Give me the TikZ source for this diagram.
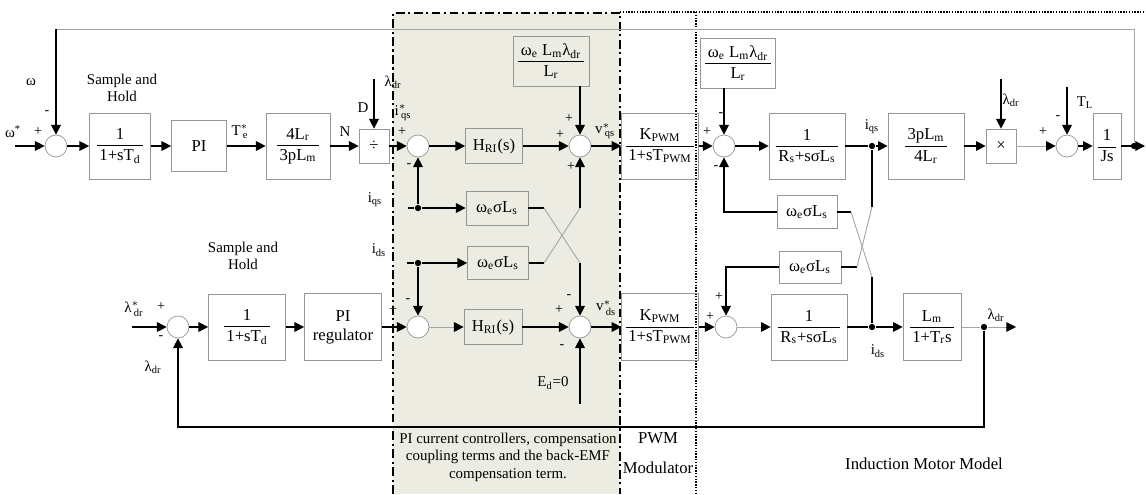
\documentclass[tikz,border=0pt]{standalone}
\usepackage{amsmath}
\usepackage{fontspec}
\setmainfont{Liberation Serif}
\usepackage{tikz}
\usetikzlibrary{arrows.meta}
\definecolor{boxGray}{RGB}{150,150,150}
\definecolor{lineGray}{RGB}{165,165,165}
\definecolor{panelBeige}{RGB}{237,236,226}
\newcommand{\ssub}[1]{\textsubscript{#1}}
\newcommand{\frc}[2]{$\genfrac{}{}{0.6pt}{0}{\text{\,#1\,}}{\text{\,#2\,}}$}
\newcommand{\sx}[2]{$\text{#1}^{*}_{\,\text{#2}}$}

\begin{document}
\begin{tikzpicture}[x=0.02cm, y=-0.02cm, font=\fontsize{8.5}{10}\selectfont,
      blk/.style 2 args={draw=boxGray, minimum width=#1, minimum height=#2,
                  inner sep=1pt, align=center, font=\fontsize{9.5}{11}\selectfont},
      sumc/.style={circle, draw=boxGray, fill=white, minimum size=0.44cm, inner sep=0pt},
      jdot/.style={circle, fill=black, inner sep=0pt, minimum size=3.6pt},
      arrow/.style={-{Triangle[length=5.5pt,width=5.5pt]}, line width=0.7pt},
      litearrow/.style={-{Triangle[length=5.5pt,width=5.5pt,color=black]}, draw=lineGray, line width=0.5pt},
      wire/.style={line width=0.7pt},
      lite/.style={draw=lineGray, line width=0.5pt},
      sign/.style={inner sep=0pt, font=\fontsize{8}{9}\selectfont},
      lbl/.style={inner sep=0pt},
      note/.style={align=center, inner sep=0pt},
      zone/.style={line width=1.1pt, dash pattern=on 5pt off 2pt on 1.2pt off 2pt},
      zoneDot/.style={line width=1.6pt, dash pattern=on 0.8pt off 0.8pt}
    ]
    \useasboundingbox (0,0) rectangle (1146,494);
    \fill[panelBeige] (393,13) rectangle (620,494);
    \draw[zone] (393,494) -- (393,13) -- (620,13) -- (620,494);
    \draw[zoneDot, line width=1.2pt] (620,12) -- (1146,12);
    \draw[zoneDot] (696,12) -- (696,494);

    \node[sumc] (sum1)  at (56,146)   {};
    \node[blk={1.22cm}{1.32cm}] (sh1)  at (120,146) {\frc{1}{1+sT\ssub{d}}};
    \node[blk={1.10cm}{1.02cm}] (pi)   at (199,146) {PI};
    \node[blk={1.28cm}{1.32cm}] (gain) at (298,146) {\frc{4L\ssub{r}}{3pL\ssub{m}}};
    \node[blk={0.60cm}{0.68cm}] (div)  at (374,146) {÷};
    \node[sumc] (sum2)  at (418,146)  {};
    \node[blk={1.14cm}{0.70cm}] (hri1) at (494,146) {H\ssub{RI}(s)};
    \node[blk={1.52cm}{1.00cm}] (emf1) at (551,61)  {\frc{ω\ssub{e} L\ssub{m}λ\ssub{dr}}{L\ssub{r}}};
    \node[sumc] (sum3)  at (580,146)  {};
    \node[blk={1.48cm}{1.32cm}] (pwm1) at (660,146) {\frc{K\ssub{PWM}}{1+sT\ssub{PWM}}};
    \node[blk={1.50cm}{1.00cm}] (emf2) at (738,63)  {\frc{ω\ssub{e} L\ssub{m}λ\ssub{dr}}{L\ssub{r}}};
    \node[sumc] (sumq)  at (724,146)  {};
    \node[blk={1.52cm}{1.32cm}] (rs1)  at (807,146) {\frc{1}{R\ssub{s}+sσL\ssub{s}}};
    \node[jdot] (jiq)   at (872,146)  {};
    \node[blk={1.52cm}{1.32cm}] (torq) at (926,146) {\frc{3pL\ssub{m}}{4L\ssub{r}}};
    \node[blk={0.60cm}{0.68cm}] (mult) at (1001,146) {×};
    \node[sumc] (sumt)  at (1067,146) {};
    \node[blk={0.56cm}{1.32cm}] (js)   at (1107,146) {\frc{1}{Js}};
    \node[jdot] (jw)    at (1134,146) {};

    \node[blk={1.24cm}{0.68cm}] (cpa) at (497,208) {ω\ssub{e}σL\ssub{s}};
    \node[blk={1.22cm}{0.66cm}] (cpb) at (498,263) {ω\ssub{e}σL\ssub{s}};
    \node[blk={1.20cm}{0.66cm}] (cpc) at (807,212) {ω\ssub{e}σL\ssub{s}};
    \node[blk={1.24cm}{0.64cm}] (cpd) at (810,267) {ω\ssub{e}σL\ssub{s}};
    \node[jdot] (jqa) at (418,208) {};
    \node[jdot] (jda) at (418,263) {};

    \node[sumc] (sum4)  at (178,327)  {};
    \node[blk={1.54cm}{1.32cm}] (sh2)   at (247,327) {\frc{1}{1+sT\ssub{d}}};
    \node[blk={1.54cm}{1.34cm}] (pireg) at (343,327) {PI\\regulator};
    \node[sumc] (sum6)  at (418,327)  {};
    \node[blk={1.16cm}{0.70cm}] (hri2)  at (493,327) {H\ssub{RI}(s)};
    \node[sumc] (sum8)  at (580,327)  {};
    \node[blk={1.48cm}{1.34cm}] (pwm2)  at (660,327) {\frc{K\ssub{PWM}}{1+sT\ssub{PWM}}};
    \node[sumc] (sumd)  at (726,327)  {};
    \node[blk={1.52cm}{1.32cm}] (rs2)   at (809,327) {\frc{1}{R\ssub{s}+sσL\ssub{s}}};
    \node[jdot] (jid)   at (872,327)  {};
    \node[blk={1.16cm}{1.34cm}] (lm)    at (932,327) {\frc{L\ssub{m}}{1+T\ssub{r}s}};
    \node[jdot] (jl)    at (984,327)  {};

    \coordinate (win)  at (15,146);
    \coordinate (wout) at (1145,146);
    \coordinate (wtr)  at (1134,29);
    \coordinate (wtl)  at (56,29);
    \coordinate (ldin) at (374,79);
    \coordinate (lmin) at (1001,79);
    \coordinate (tlin) at (1067,87);
    \coordinate (iqin) at (408,208);
    \coordinate (idin) at (407,263);
    \coordinate (lin)  at (132,327);
    \coordinate (lout) at (1016,327);
    \coordinate (fbl)  at (984,427);
    \coordinate (edin) at (580,404);
    \coordinate (xa1) at (544,208);
    \coordinate (xa2) at (580,263);
    \coordinate (xb1) at (544,263);
    \coordinate (xb2) at (580,208);
    \coordinate (xc1) at (851,212);
    \coordinate (xc2) at (872,277);
    \coordinate (xd1) at (857,267);
    \coordinate (xd2) at (872,207);

    \draw[arrow] (win)  -- (sum1);
    \draw[arrow] (sum1) -- (sh1);
    \draw[arrow] (sh1)  -- (pi);
    \draw[arrow] (pi)   -- (gain);
    \draw[arrow] (gain) -- (div);
    \draw[arrow] (div)  -- (sum2);
    \draw[arrow] (sum2) -- (hri1);
    \draw[arrow] (hri1) -- (sum3);
    \draw[arrow] (sum3) -- (pwm1);
    \draw[arrow] (pwm1) -- (sumq);
    \draw[arrow] (sumq) -- (rs1);
    \draw[wire]  (rs1)  -- (jiq);
    \draw[arrow] (jiq)  -- (torq);
    \draw[arrow] (torq) -- (mult);
    \draw[litearrow] (mult) -- (sumt);
    \draw[arrow] (sumt) -- (js);
    \draw[wire]  (js)   -- (jw);
    \draw[arrow] (jw)   -- (wout);
    \draw[lite]  (jw) -- (wtr) -- (wtl);
    \draw[arrow] (wtl)  -- (sum1);
    \draw[arrow] (ldin) -- (div);
    \draw[arrow] (lmin) -- (mult);
    \draw[arrow] (tlin) -- (sumt);
    \draw[arrow] (emf1.south -| sum3) -- (sum3);
    \draw[arrow] (emf2.south -| sumq) -- (sumq);

    \draw[wire]  (iqin) -- (jqa);
    \draw[arrow] (jqa)  -- (cpa);
    \draw[arrow] (jqa)  -- (sum2);
    \draw[wire]  (idin) -- (jda);
    \draw[arrow] (jda)  -- (cpb);
    \draw[arrow] (jda)  -- (sum6);
    \draw[wire]  (cpa) -- (xa1);
    \draw[lite]  (xa1) -- (xa2);
    \draw[arrow] (xa2) -- (sum8);
    \draw[wire]  (cpb) -- (xb1);
    \draw[lite]  (xb1) -- (xb2);
    \draw[arrow] (xb2) -- (sum3);
    \draw[arrow] (cpc) -| (sumq);
    \draw[arrow] (cpd) -| (sumd);
    \draw[wire]  (cpc) -- (xc1);
    \draw[lite]  (xc1) -- (xc2);
    \draw[wire]  (xc2) -- (jid);
    \draw[wire]  (cpd) -- (xd1);
    \draw[lite]  (xd1) -- (xd2);
    \draw[wire]  (xd2) -- (jiq);

    \draw[arrow] (lin)   -- (sum4);
    \draw[arrow] (sum4)  -- (sh2);
    \draw[arrow] (sh2)   -- (pireg);
    \draw[arrow] (pireg) -- (sum6);
    \draw[litearrow] (sum6) -- (hri2);
    \draw[arrow] (hri2)  -- (sum8);
    \draw[arrow] (sum8)  -- (pwm2);
    \draw[arrow] (pwm2)  -- (sumd);
    \draw[litearrow] (sumd) -- (rs2);
    \draw[wire]  (rs2)   -- (jid);
    \draw[arrow] (jid)   -- (lm);
    \draw[lite]  (lm)    -- (jl);
    \draw[litearrow] (jl) -- (lout);
    \draw[arrow] (jl) -- (fbl) -| (sum4);
    \draw[arrow] (edin) -- (sum8);

    \node[lbl]  (lw)   at (31,82)   {ω};
    \node[sign] (sg1)  at (47,113)  {-};
    \node[lbl]  (lwr)  at (13,132)  {ω\textsuperscript{*}};
    \node[sign] (sg2)  at (38,132)  {+};
    \node[note] (sah1) at (122,88)  {Sample and\\Hold};
    \node[lbl]  (lte)  at (240,132) {\sx{T}{e}};
    \node[lbl]  (ln)   at (345,132) {N};
    \node[lbl]  (ld)   at (363,108) {D};
    \node[lbl]  (lld1) at (393,82)  {λ\ssub{dr}};
    \node[lbl]  (liqr) at (403,113) {\sx{i}{qs}};
    \node[sign] (sg3)  at (402,132) {+};
    \node[sign] (sg4)  at (409,166) {-};
    \node[lbl]  (liq1) at (375,200) {i\ssub{qs}};
    \node[lbl]  (lid1) at (379,250) {i\ssub{ds}};
    \node[sign] (sg5)  at (569,119) {+};
    \node[sign] (sg6)  at (560,135) {+};
    \node[sign] (sg7)  at (571,167) {+};
    \node[lbl]  (lvq)  at (605,131) {\sx{v}{qs}};
    \node[sign] (sg8)  at (707,132) {+};
    \node[sign] (sg9)  at (721,115) {-};
    \node[sign] (sg10) at (716,168) {-};
    \node[lbl]  (liq2) at (872,127) {i\ssub{qs}};
    \node[lbl]  (lld2) at (1011,100) {λ\ssub{dr}};
    \node[sign] (sg11) at (1043,132) {+};
    \node[sign] (sg12) at (1058,118) {-};
    \node[lbl]  (ltl)  at (1085,103) {T\ssub{L}};

    \node[note] (sah2) at (243,256) {Sample and\\Hold};
    \node[lbl]  (lldr) at (134,309) {\sx{λ}{dr}};
    \node[sign] (sg13) at (161,307) {+};
    \node[sign] (sg14) at (161,338) {-};
    \node[lbl]  (lld3) at (153,367) {λ\ssub{dr}};
    \node[sign] (sg15) at (393,310) {+};
    \node[sign] (sg16) at (408,301) {-};
    \node[sign] (sg17) at (569,297) {-};
    \node[sign] (sg18) at (559,310) {+};
    \node[sign] (sg19) at (562,347) {-};
    \node[lbl]  (lvd)  at (606,308) {\sx{v}{ds}};
    \node[lbl]  (led)  at (553,383) {E\ssub{d}=0};
    \node[sign] (sg20) at (719,297) {+};
    \node[sign] (sg21) at (710,317) {+};
    \node[lbl]  (lld4) at (996,315) {λ\ssub{dr}};
    \node[lbl]  (lid2) at (878,351) {i\ssub{ds}};

    \node[note] (tpi)  at (508,457) {PI current controllers, compensation\\coupling terms and the back-EMF\\compensation term.};
    \node[note, font=\fontsize{9.5}{17}\selectfont] (tpwm) at (658,453) {PWM\\Modulator};
    \node[note, font=\fontsize{9.5}{11}\selectfont] (tim) at (924,464) {Induction Motor Model};
  \end{tikzpicture}
\end{document}
